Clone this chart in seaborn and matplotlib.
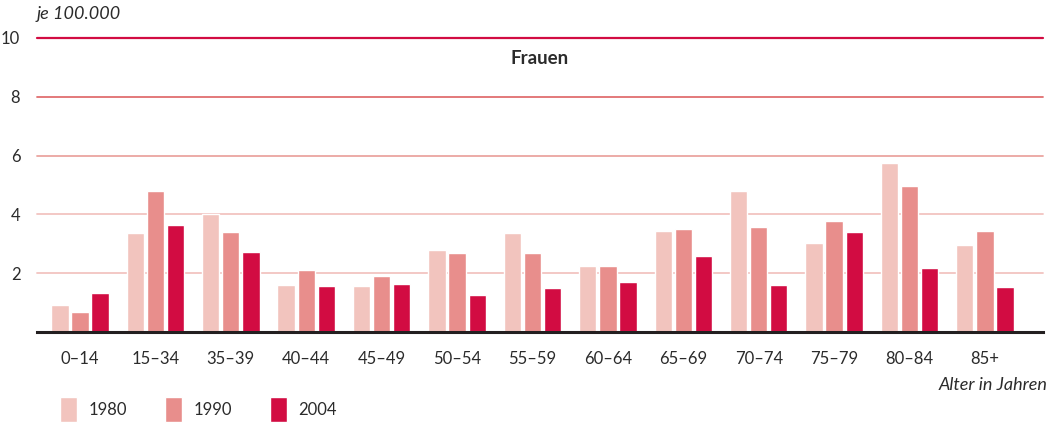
import matplotlib
matplotlib.use("Agg")
import matplotlib.pyplot as plt
import pandas as pd
import seaborn as sns

# data (deaths per 100,000, women)
age_groups = ["0–14", "15–34", "35–39", "40–44", "45–49", "50–54", "55–59",
              "60–64", "65–69", "70–74", "75–79", "80–84", "85+"]
years = ["1980", "1990", "2004"]
values_1980 = [0.92, 3.37, 4.01, 1.60, 1.56, 2.79, 3.37, 2.24, 3.44, 4.80, 3.03, 5.75, 2.96]
values_1990 = [0.68, 4.80, 3.40, 2.11, 1.90, 2.69, 2.69, 2.24, 3.50, 3.57, 3.78, 4.97, 3.44]
values_2004 = [1.33, 3.64, 2.72, 1.56, 1.63, 1.26, 1.50, 1.70, 2.58, 1.60, 3.40, 2.18, 1.53]
y_ticks = [2, 4, 6, 8, 10]

colors = ["#F2C4BE", "#E88E8C", "#D20C42"]
grid_colors = {2: "#F2C4C0", 4: "#F2C4C0", 6: "#EBA5A0", 8: "#E06E70", 10: "#D20C42"}
text_color = "#2b2b2b"

df = pd.DataFrame({
    "age": age_groups * 3,
    "value": values_1980 + values_1990 + values_2004,
    "year": [y for y in years for _ in age_groups],
})

sns.set_theme(style="white")
plt.rcParams["font.family"] = ["Lato", "DejaVu Sans"]

fig = plt.figure(figsize=(10.56, 4.29), dpi=100)
ax = fig.add_axes([37 / 1056, 1 - 332 / 429, (1043 - 37) / 1056, (332 - 38) / 429])

sns.barplot(data=df, x="age", y="value", hue="year", palette=colors,
            width=0.8, gap=0.14, saturation=1, ax=ax, zorder=3)

for t in y_ticks:
    ax.axhline(t, color=grid_colors[t], lw=1.6 if t == 10 else 1.3, zorder=1, clip_on=False)

ax.set_ylim(0, 10)
ax.set_xlim(-0.57, 12.77)
ax.set_yticks(y_ticks)
ax.set_xlabel("")
ax.set_ylabel("")
ax.tick_params(axis="both", length=0, labelsize=12, colors=text_color)
ax.tick_params(axis="y", pad=12)
ax.tick_params(axis="x", pad=14)
for side in ["top", "right", "left"]:
    ax.spines[side].set_visible(False)
ax.spines["bottom"].set_color("#231f20")
ax.spines["bottom"].set_linewidth(2.2)
ax.spines["bottom"].set_zorder(4)

ax.text(0.0, 1.08, "je 100.000", transform=ax.transAxes, fontsize=13,
        style="italic", color=text_color, ha="left", va="center")
ax.text(0.5, 0.93, "Frauen", transform=ax.transAxes, fontsize=13.5,
        fontweight="bold", color=text_color, ha="center", va="center")
fig.text(1047 / 1056, 1 - 385 / 429, "Alter in Jahren", fontsize=13,
         style="italic", color=text_color, ha="right", va="center")

handles, labels = ax.get_legend_handles_labels()
ax.legend(handles, labels, loc="lower left", bbox_to_anchor=(60 / 1056, 1 - 422 / 429),
          bbox_transform=fig.transFigure, ncol=3, frameon=False, fontsize=12,
          handlelength=1.0, handleheight=1.9, handletextpad=0.7,
          columnspacing=2.3, borderpad=0, borderaxespad=0, labelcolor=text_color)

fig.savefig("out.png", dpi=100)
